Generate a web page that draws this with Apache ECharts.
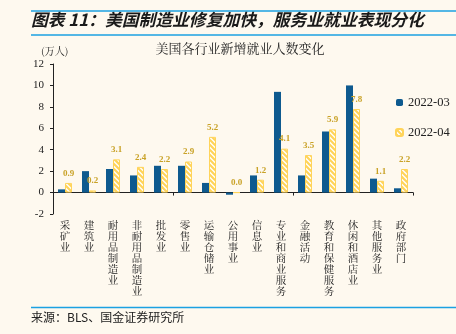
<!DOCTYPE html>
<html><head><meta charset="utf-8">
<script src="https://cdn.jsdelivr.net/npm/echarts@6/dist/echarts.min.js"></script>
<style>html,body{margin:0;padding:0;background:#FEF9EF;}#c{width:456px;height:334px;}</style>
</head><body><div id="c"></div>
<script>
var categories = ['采矿业','建筑业','耐用品制造业','非耐用品制造业','批发业','零售业','运输仓储业','公用事业','信息业','专业和商业服务','金融活动','教育和保健服务','休闲和酒店业','其他服务业','政府部门'];
var seriesNames = ['2022-03','2022-04'];
var mar = [0.3, 2.0, 2.2, 1.6, 2.5, 2.5, 0.9, -0.2, 1.6, 9.4, 1.6, 5.7, 10.0, 1.3, 0.4];
var apr = [0.9, 0.2, 3.1, 2.4, 2.2, 2.9, 5.2, 0.0, 1.2, 4.1, 3.5, 5.9, 7.8, 1.1, 2.2];
var yTicks = [-2, 0, 2, 4, 6, 8, 10, 12];

var BG = '#FEF9EF', BLUE = '#0E5A8F', YEL = '#FFD45A', LINE = '#1BA1E2';
var cjk = "'Noto Serif CJK SC','Noto Sans CJK SC',serif";
var ser = "'Liberation Serif','DejaVu Serif',serif";

function hatch(){
  var cv = document.createElement('canvas'); cv.width = 5; cv.height = 5;
  var g = cv.getContext('2d');
  g.fillStyle = '#FFFFFF'; g.fillRect(0,0,5,5);
  g.strokeStyle = YEL; g.lineWidth = 2.2;
  g.beginPath();
  g.moveTo(-1,-1); g.lineTo(6,6);
  g.moveTo(-1,4); g.lineTo(1,6);
  g.moveTo(4,-1); g.lineTo(6,1);
  g.stroke();
  return cv;
}

var chart = echarts.init(document.getElementById('c'), null, {renderer:'canvas'});
chart.setOption({
  backgroundColor: BG,
  animation: false,
  title: [
    {text: '图表 11：美国制造业修复加快，服务业就业表现分化', left: 31, top: 11, padding: 0,
     textStyle: {fontFamily: "'Noto Sans CJK SC'", fontSize: 16.8, fontWeight: 'bold', fontStyle: 'italic', color: '#1a1a1a'}},
    {text: '美国各行业新增就业人数变化', left: 240, top: 42, padding: 0, textAlign: 'center',
     textStyle: {fontFamily: cjk, fontSize: 13, fontWeight: 'normal', color: '#222'}},
    {text: '(万人)', left: 41, top: 46, padding: 0, textStyle: {fontFamily: cjk, fontSize: 10, fontWeight: 'normal', color: '#222'}},
    {text: '来源：BLS、国金证券研究所', left: 31, top: 311, padding: 0,
     textStyle: {fontFamily: "'Noto Sans CJK SC'", fontSize: 12, fontWeight: 'normal', color: '#222'}}
  ],
  graphic: [
    {type: 'line', shape: {x1: 31, y1: 11, x2: 456, y2: 11}, style: {stroke: LINE, lineWidth: 1.5}},
    {type: 'line', shape: {x1: 31, y1: 35, x2: 456, y2: 35}, style: {stroke: LINE, lineWidth: 1.5}},
    {type: 'line', shape: {x1: 31, y1: 307.5, x2: 456, y2: 307.5}, style: {stroke: LINE, lineWidth: 1.5}}
  ],
  legend: {
    orient: 'vertical', left: 395, top: 96, padding: 0, itemWidth: 7, itemHeight: 7, itemGap: 17,
    data: seriesNames,
    textStyle: {fontFamily: ser, fontSize: 12.5, color: '#222'}
  },
  grid: {left: 53, right: 43, top: 64, bottom: 120},
  xAxis: [
    {type: 'category', data: categories, axisLine: {onZero: true, lineStyle: {color: '#222', width: 1}},
     axisTick: {show: true, length: 3, lineStyle: {color: '#222'}}, axisLabel: {show: false}, splitLine: {show: false}},
    {type: 'category', data: categories, position: 'bottom', axisLine: {show: false, onZero: false}, axisTick: {show: false},
     axisLabel: {interval: 0, margin: 6, fontFamily: cjk, fontSize: 10.5, lineHeight: 11, color: '#222',
       formatter: function(v){ return v.split('').join('\n'); }}}
  ],
  yAxis: {
    type: 'value', min: -2, max: 12, interval: 2,
    axisLine: {show: true, lineStyle: {color: '#222'}},
    axisTick: {show: true, length: 3, lineStyle: {color: '#222'}},
    axisLabel: {fontFamily: ser, fontSize: 11, color: '#222', margin: 9},
    splitLine: {show: false}
  },
  series: [
    {name: seriesNames[0], type: 'bar', data: mar, barWidth: 7, barGap: '0%',
     itemStyle: {color: BLUE}},
    {name: seriesNames[1], type: 'bar', data: apr, barWidth: 7,
     itemStyle: {color: {image: hatch(), repeat: 'repeat'}, borderColor: YEL, borderWidth: 1},
     label: {show: true, position: 'top', distance: 5, fontFamily: ser, fontSize: 9, fontWeight: 'bold', color: '#C9A227',
       formatter: function(p){ return p.value.toFixed(1); }}}
  ]
});
</script></body></html>
